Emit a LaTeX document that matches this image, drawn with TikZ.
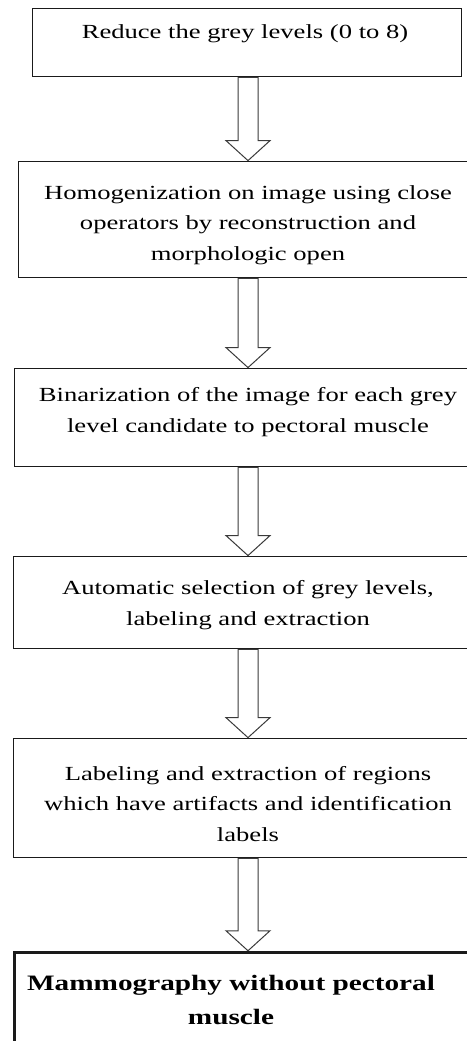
\documentclass[tikz,border=0pt]{standalone}
\usepackage{fontspec}
\setmainfont{Liberation Serif}[FakeStretch=1.33]
\usepackage{xcolor}
\usetikzlibrary{calc}
\definecolor{edge}{HTML}{1A1A1A}
\definecolor{arrowd}{HTML}{3A3A3A}
\tikzset{
  % plain step box, text is set on its own node
  stage/.style    = {rectangle, draw=edge, line width=1.2bp, fill=white, inner sep=0pt},
  final/.style    = {stage, line width=3bp},
  stagetxt/.style = {align=center, inner sep=0pt, font=\fontsize{20bp}{30.5bp}\selectfont},
  finaltxt/.style = {align=center, inner sep=0pt, font=\fontsize{22bp}{34bp}\selectfont\bfseries},
  hollow/.style   = {draw=arrowd, line width=1bp, fill=white, line join=miter},
}
% hollow block arrow from the bottom of #1 to the top of #2
\newcommand{\hollowarrow}[2]{%
  \draw[hollow] ($(#2.north |- #1.south)+(-10,0)$) -- ($(#2.north)+(-10,-20)$)
    -- ($(#2.north)+(-22,-20)$) -- (#2.north) -- ($(#2.north)+(22,-20)$)
    -- ($(#2.north)+(10,-20)$) -- ($(#2.north |- #1.south)+(10,0)$) -- cycle;}

\begin{document}
\begin{tikzpicture}[x=1bp,y=-1bp]
\clip (0,0) rectangle (467,1041);
\fill[white] (0,0) rectangle (467,1041);

% ---- boxes ----------------------------------------------------------
\node[stage, minimum width=430, minimum height=69]  (b1) at (247,42.5) {};
\node[stage, minimum width=460, minimum height=117] (b2) at (248,219.5) {};
\node[stage, minimum width=468, minimum height=99]  (b3) at (248,417.5) {};
\node[stage, minimum width=470, minimum height=93]  (b4) at (248,602.5) {};
\node[stage, minimum width=470, minimum height=120] (b5) at (248,798) {};
\node[final, minimum width=468, minimum height=140] (b6) at (248,1022) {};

% ---- texts ----------------------------------------------------------
\node[stagetxt] (t1) at (245,34) {Reduce the grey levels (0 to 8)};
\node[stagetxt] (t2) at (248,225) {Homogenization on image using close\\
      operators by reconstruction and\\ morphologic open};
\node[stagetxt] (t3) at (248,412) {Binarization of the image for each grey\\
      level candidate to pectoral muscle};
\node[stagetxt] (t4) at (248,605) {Automatic selection of grey levels,\\
      labeling and extraction};
\node[stagetxt] (t5) at (248,804) {Labeling and extraction of regions\\
      which have artifacts and identification\\ labels};
\node[finaltxt] (t6) at (231,1000) {Mammography without pectoral\\ muscle};

% ---- arrows ---------------------------------------------------------
\foreach \a/\b in {b1/b2, b2/b3, b3/b4, b4/b5, b5/b6}
  \hollowarrow{\a}{\b};
\end{tikzpicture}
\end{document}
